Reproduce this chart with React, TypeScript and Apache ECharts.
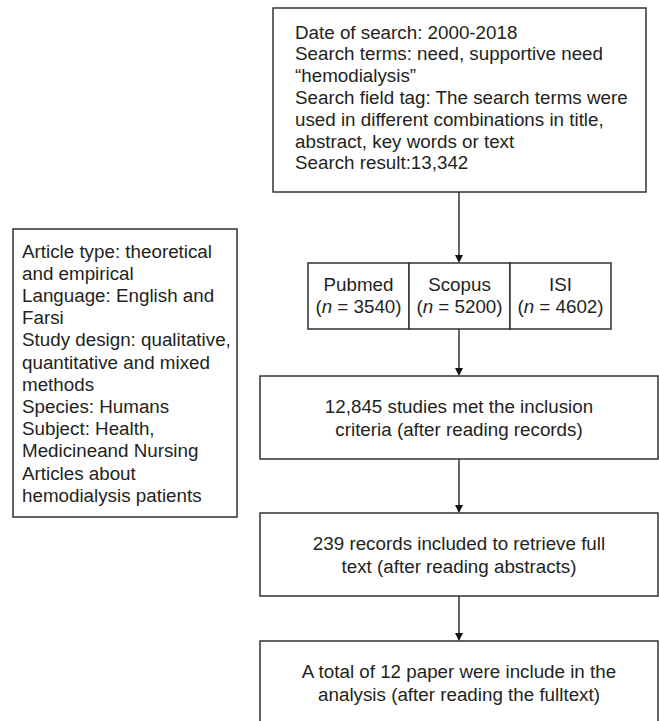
import React, { useEffect, useRef } from "react";
import * as echarts from "echarts";

const searchLines = [
  "Date of search: 2000-2018",
  "Search terms: need, supportive need",
  "\u201chemodialysis\u201d",
  "Search field tag: The search terms were",
  "used in different combinations in title,",
  "abstract, key words or text",
  "Search result:13,342",
];

const criteriaLines = [
  "Article type: theoretical",
  "and empirical",
  "Language: English and",
  "Farsi",
  "Study design: qualitative,",
  "quantitative and mixed",
  "methods",
  "Species: Humans",
  "Subject: Health,",
  "Medicineand Nursing",
  "Articles about",
  "hemodialysis patients",
];

const databases = ["Pubmed", "Scopus", "ISI"];
const dbCounts = [3540, 5200, 4602];

const stageLines = [
  ["12,845 studies met the inclusion", "criteria (after reading records)"],
  ["239 records included to retrieve full", "text (after reading abstracts)"],
  ["A total of 12 paper were include in the", "analysis (after reading the fulltext)"],
];

const FONT = "'Liberation Sans', Arial, sans-serif";
const FS = 18.8;
const STROKE = "#333";
const TEXT = "#231f20";

function rect(x: number, y: number, w: number, h: number) {
  return {
    type: "rect",
    shape: { x, y, width: w, height: h },
    style: { fill: "#fff", stroke: STROKE, lineWidth: 1.5 },
  };
}

function txt(x: number, y: number, s: string, align = "left") {
  return {
    type: "text",
    x,
    y,
    style: {
      text: s,
      fontSize: FS,
      fontFamily: FONT,
      fill: TEXT,
      align,
      verticalAlign: "middle",
      textAlign: align,
      textVerticalAlign: "middle",
    },
  };
}

function arrow(x: number, y1: number, y2: number) {
  return [
    {
      type: "line",
      shape: { x1: x, y1, x2: x, y2: y2 - 6 },
      style: { stroke: STROKE, lineWidth: 1.5 },
    },
    {
      type: "polygon",
      shape: { points: [[x - 4, y2 - 8], [x + 4, y2 - 8], [x, y2]] },
      style: { fill: "#111" },
    },
  ];
}

export default function App() {
  const ref = useRef<HTMLDivElement>(null);
  useEffect(() => {
    if (!ref.current) return;
    const chart = echarts.init(ref.current, null, { renderer: "svg" });
    const cx = 459;
    const els: any[] = [];

    // top search box
    els.push(rect(273, 8, 373, 184));
    searchLines.forEach((s, i) => els.push(txt(295, 32 + i * 21.8, s)));

    // criteria box
    els.push(rect(13, 229, 224, 288));
    criteriaLines.forEach((s, i) => els.push(txt(22, 251 + i * 22.2, s)));

    // arrow to databases
    els.push(...arrow(cx, 192, 263));

    // database boxes
    const dbW = 101;
    const dbX0 = 308;
    databases.forEach((d, i) => {
      const x = dbX0 + i * dbW;
      els.push(rect(x, 263, dbW, 66));
      els.push(txt(x + dbW / 2, 284, d, "center"));
      els.push({
        type: "text",
        x: x + dbW / 2,
        y: 306,
        style: {
          text: "({i|n} = " + dbCounts[i] + ")",
          fontSize: FS,
          fontFamily: FONT,
          fill: TEXT,
          align: "center",
          verticalAlign: "middle",
          textAlign: "center",
          textVerticalAlign: "middle",
          rich: {
            i: { fontStyle: "italic", fontSize: FS, fontFamily: FONT, fill: TEXT },
          },
        },
      });
    });

    els.push(...arrow(cx, 329, 376));

    const boxes = [
      { y: 376, h: 83 },
      { y: 513, h: 83 },
      { y: 641, h: 83 },
    ];
    boxes.forEach((b, i) => {
      els.push(rect(260, b.y, 398, b.h));
      const mid = b.y + 41;
      stageLines[i].forEach((s, j) =>
        els.push(txt(cx, mid - 11 + j * 23, s, "center"))
      );
    });
    els.push(...arrow(cx, 459, 513));
    els.push(...arrow(cx, 596, 641));

    chart.setOption({
      animation: false,
      backgroundColor: "#fff",
      graphic: { elements: els },
    });
    return () => chart.dispose();
  }, []);
  return (
    <div
      ref={ref}
      style={{ position: "fixed", left: 0, top: 0, width: 659, height: 721 }}
    />
  );
}
